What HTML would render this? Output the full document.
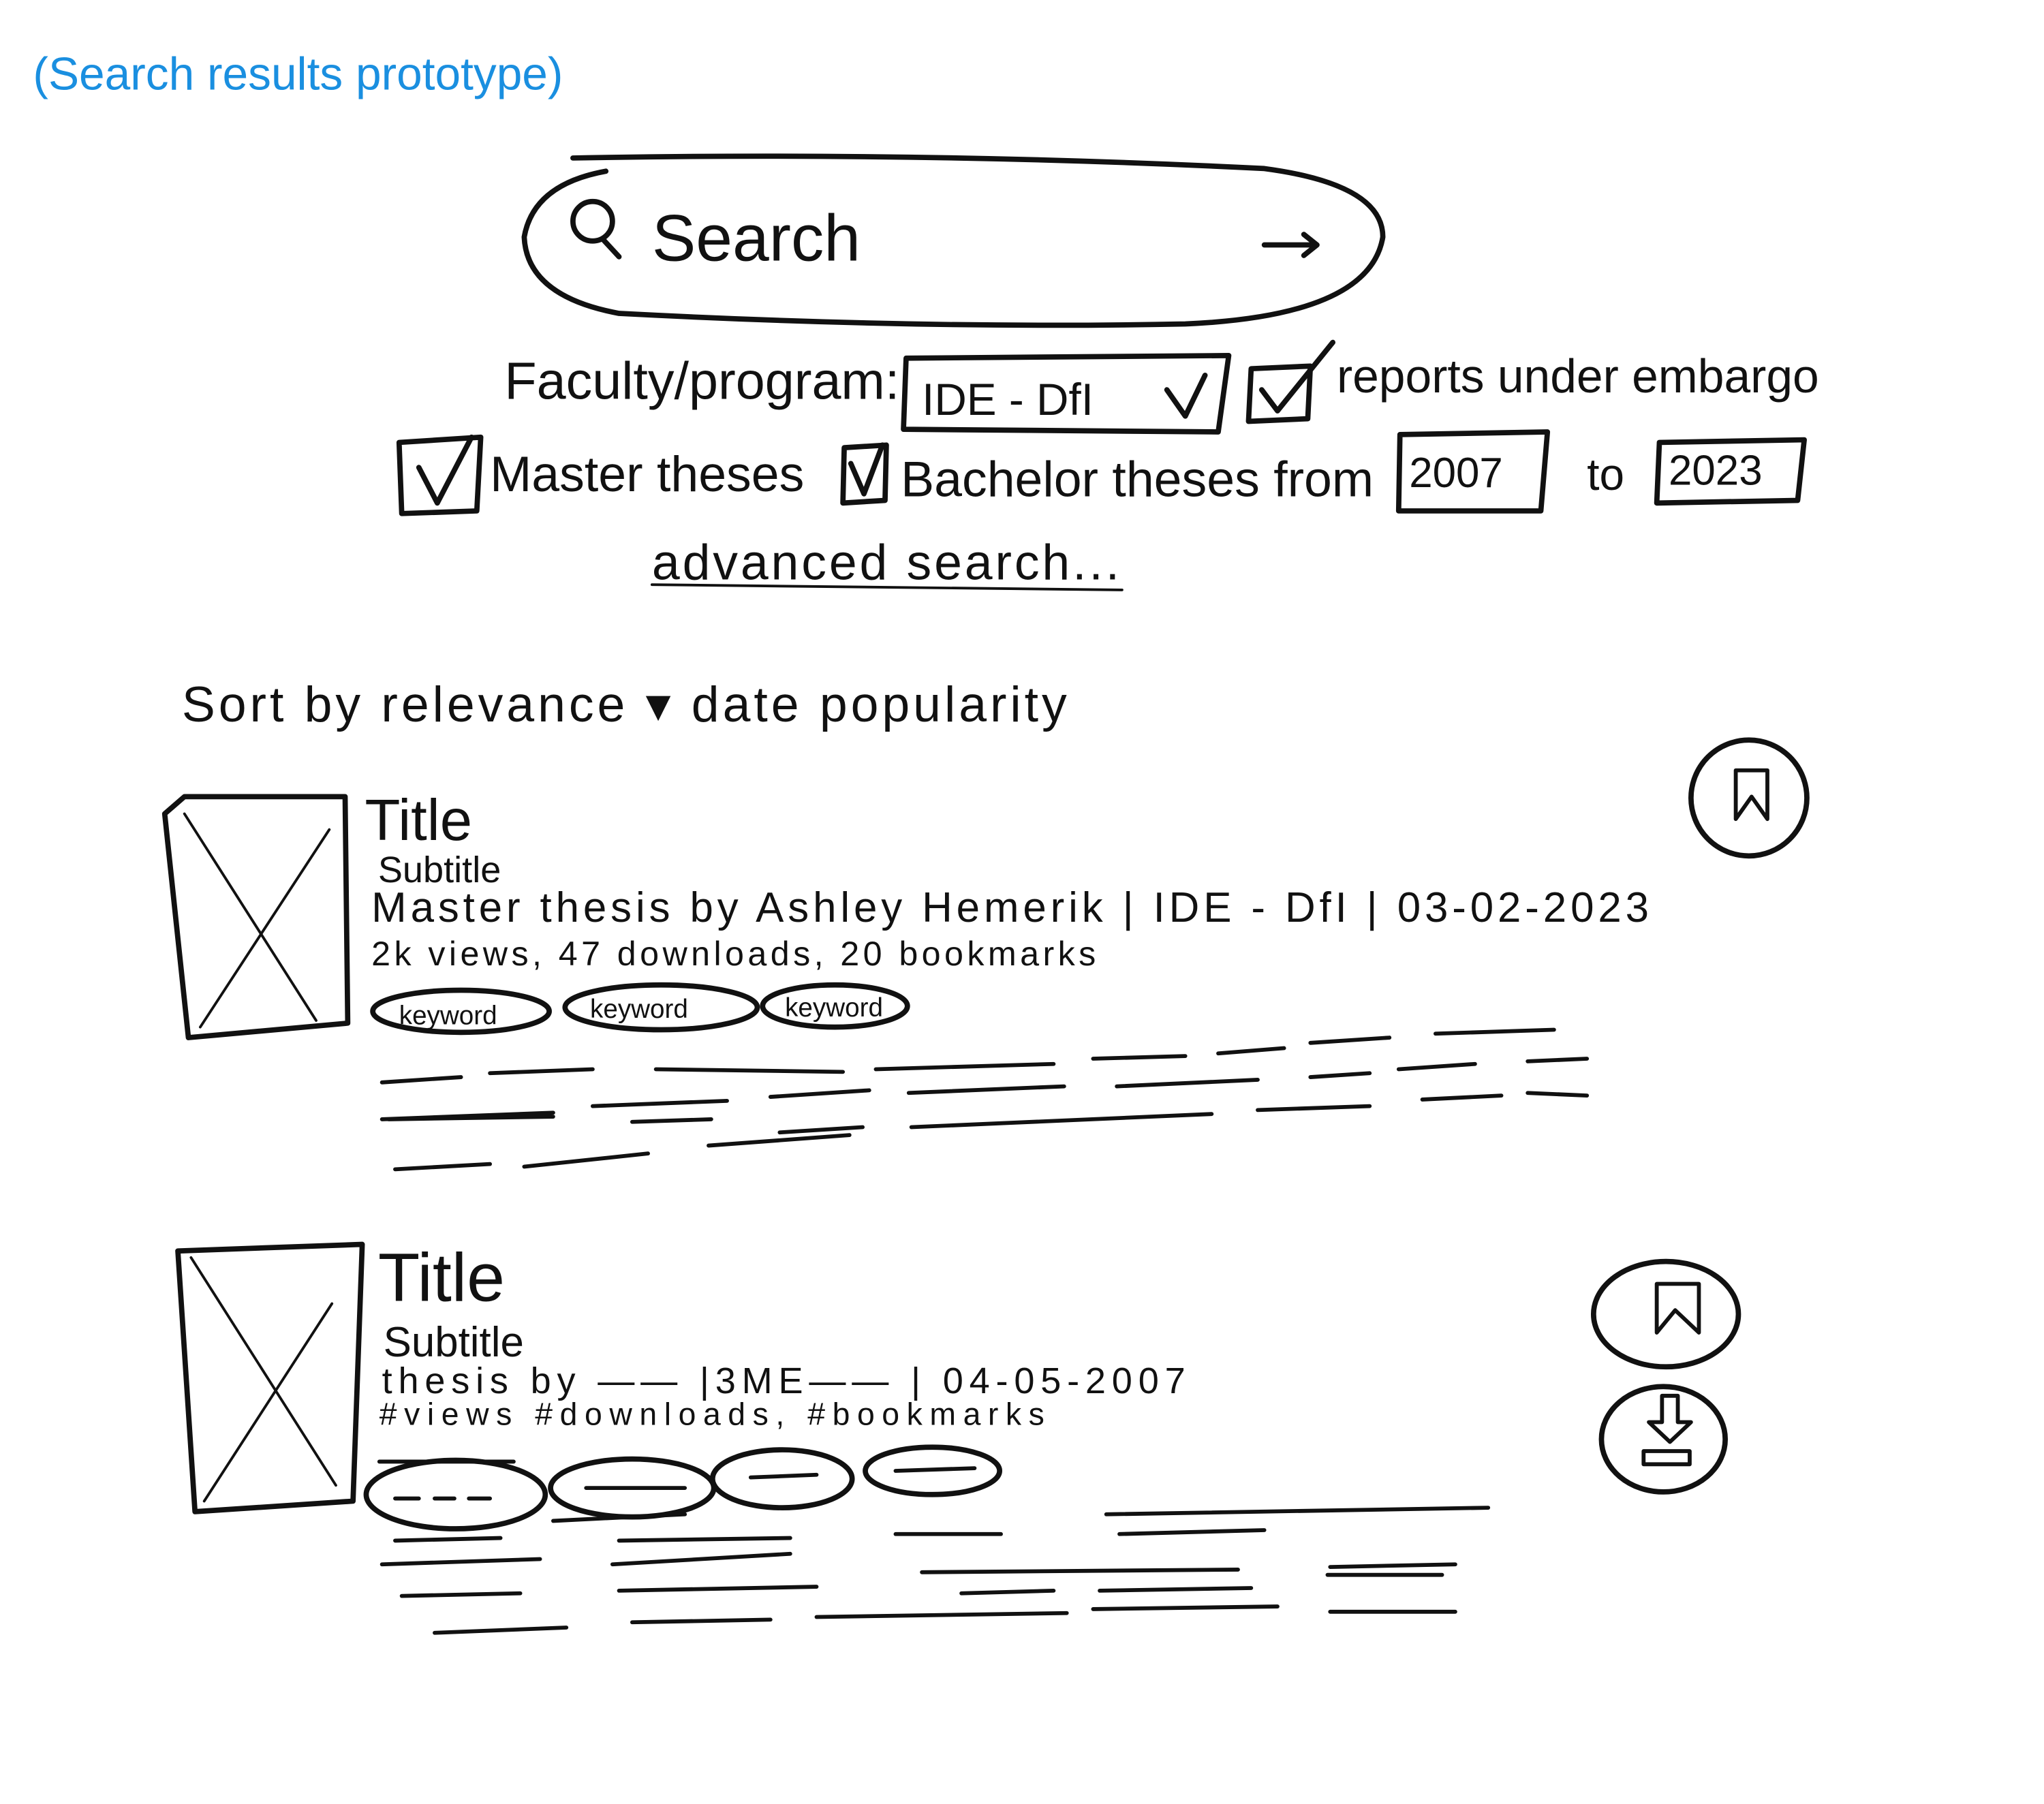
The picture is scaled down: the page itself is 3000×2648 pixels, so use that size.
<!DOCTYPE html>
<html><head><meta charset="utf-8"><style>
html,body{margin:0;padding:0;background:#fff;}
svg{display:block}
text{font-family:"Liberation Sans",sans-serif;fill:#111}
</style></head><body>
<svg width="3000" height="2648" viewBox="0 0 1552 1370" xmlns="http://www.w3.org/2000/svg">
<g fill="none" stroke="#111" stroke-width="4" stroke-linecap="round" stroke-linejoin="round">
<path d="M435 120 Q700 115 960 128 Q1050 140 1050 180 Q1040 240 900 246 Q700 250 470 238 Q400 225 398 180 Q405 140 460 130"/>
<circle cx="450" cy="168" r="15"/><path d="M458 182 L470 195"/>
<path d="M960 186 L1000 186 M990 178 L1000 186 L990 194"/>
<path d="M688 272 L933 270 L925 328 L686 326 Z"/>
<path d="M886 296 L900 316 L915 285"/>
<path d="M950 280 L995 278 L993 318 L948 320 Z"/><path d="M958 296 L970 312 L1012 260"/>
<path d="M303 336 L365 332 L362 388 L305 390 Z"/><path d="M318 355 L332 382 L358 332"/>
<path d="M641 340 L673 338 L672 380 L640 382 Z"/><path d="M646 352 L656 375 L670 338"/>
<path d="M1063 330 L1175 328 L1170 388 L1062 388 Z"/>
<path d="M1260 336 L1370 334 L1365 380 L1258 382 Z"/>
<path d="M495 444 L852 448" stroke-width="2"/>
<path d="M125 618 L140 605 L262 605 L264 777 L143 788 Z"/>
<path d="M140 618 L240 775 M250 630 L152 780" stroke-width="2"/>
<circle cx="1328" cy="606" r="44"/><path d="M1318 585 L1318 622 L1330 605 L1342 622 L1342 585 Z" stroke-width="3"/>
<ellipse cx="350" cy="768" rx="67" ry="16"/><ellipse cx="502" cy="765" rx="73" ry="17"/><ellipse cx="634" cy="764" rx="55" ry="16"/>
<path stroke-width="3" d="M290 822 L350 818 M372 815 L450 812 M498 812 L640 814 M665 812 L800 808 M830 804 L900 802 M925 800 L975 796 M995 792 L1055 788 M1090 785 L1180 782
M290 850 L420 845 M450 840 L552 836 M585 833 L660 828 M690 830 L808 825 M848 825 L955 820 M995 818 L1040 815 M1062 812 L1120 808 M1160 806 L1205 804
M295 850 L420 848 M480 852 L540 850 M592 860 L655 856 M692 856 L920 846 M955 843 L1040 840 M1080 835 L1140 832 M1160 830 L1205 832
M300 888 L372 884 M398 886 L492 876 M538 870 L645 862"/>
<path d="M135 950 L275 945 L268 1140 L148 1148 Z"/>
<path d="M145 955 L255 1128 M252 990 L155 1140" stroke-width="2"/>
<ellipse cx="1265" cy="998" rx="55" ry="40"/><path d="M1258 975 L1258 1012 L1272 995 L1290 1012 L1290 975 Z" stroke-width="3"/>
<ellipse cx="1263" cy="1093" rx="47" ry="40"/><path d="M1262 1060 L1262 1080 L1252 1080 L1268 1095 L1284 1080 L1274 1080 L1274 1060 Z M1248 1102 L1283 1102 L1283 1112 L1248 1112 Z" stroke-width="3"/>
<ellipse cx="346" cy="1135" rx="68" ry="26"/><ellipse cx="480" cy="1130" rx="62" ry="22"/><ellipse cx="594" cy="1123" rx="53" ry="22"/><ellipse cx="708" cy="1117" rx="51" ry="18"/>
<path stroke-width="3" d="M300 1138 L318 1138 M330 1138 L345 1138 M356 1138 L372 1138 M445 1130 L520 1130 M570 1122 L620 1120 M680 1117 L740 1115 M288 1110 L390 1110
M420 1155 L520 1150 M840 1150 L1130 1145 M300 1170 L380 1168 M470 1170 L600 1168 M680 1165 L760 1165 M850 1165 L960 1162
M290 1188 L410 1184 M465 1188 L600 1180 M700 1194 L940 1192 M1010 1190 L1105 1188
M305 1212 L395 1210 M470 1208 L620 1205 M730 1210 L800 1208 M835 1208 L950 1206 M1008 1196 L1095 1196
M330 1240 L430 1236 M480 1232 L585 1230 M620 1228 L810 1225 M830 1222 L970 1220 M1010 1224 L1105 1224"/>
</g>
<text x="25" y="68" font-size="35" style="fill:#1a8fe0">(Search results prototype)</text>
<text x="495" y="198" font-size="50">Search</text>
<text x="383" y="303" font-size="40">Faculty/program:</text>
<text x="700" y="315" font-size="34">IDE - DfI</text>
<text x="1015" y="298" font-size="36">reports under embargo</text>
<text x="372" y="373" font-size="38">Master theses</text>
<text x="684" y="377" font-size="38">Bachelor theses  from</text>
<text x="1070" y="370" font-size="32">2007</text>
<text x="1205" y="372" font-size="34">to</text>
<text x="1267" y="368" font-size="32">2023</text>
<text x="495" y="440" font-size="38" textLength="355">advanced search...</text>
<text x="138" y="548" font-size="38" textLength="672">Sort by  relevance ▾  date   popularity</text>
<text x="277" y="638" font-size="44">Title</text>
<text x="287" y="670" font-size="28">Subtitle</text>
<text x="282" y="700" font-size="32" textLength="970">Master thesis by Ashley Hemerik | IDE - DfI | 03-02-2023</text>
<text x="282" y="733" font-size="26" textLength="550">2k views, 47 downloads, 20 bookmarks</text>
<text x="303" y="778" font-size="20">keyword</text><text x="448" y="773" font-size="20">keyword</text><text x="596" y="772" font-size="20">keyword</text>
<text x="287" y="988" font-size="52">Title</text>
<text x="291" y="1030" font-size="32">Subtitle</text>
<text x="290" y="1058" font-size="28" textLength="610">thesis by ——  |3ME——  | 04-05-2007</text>
<text x="288" y="1082" font-size="24" textLength="505">#views #downloads, #bookmarks</text>
</svg>
</body></html>
